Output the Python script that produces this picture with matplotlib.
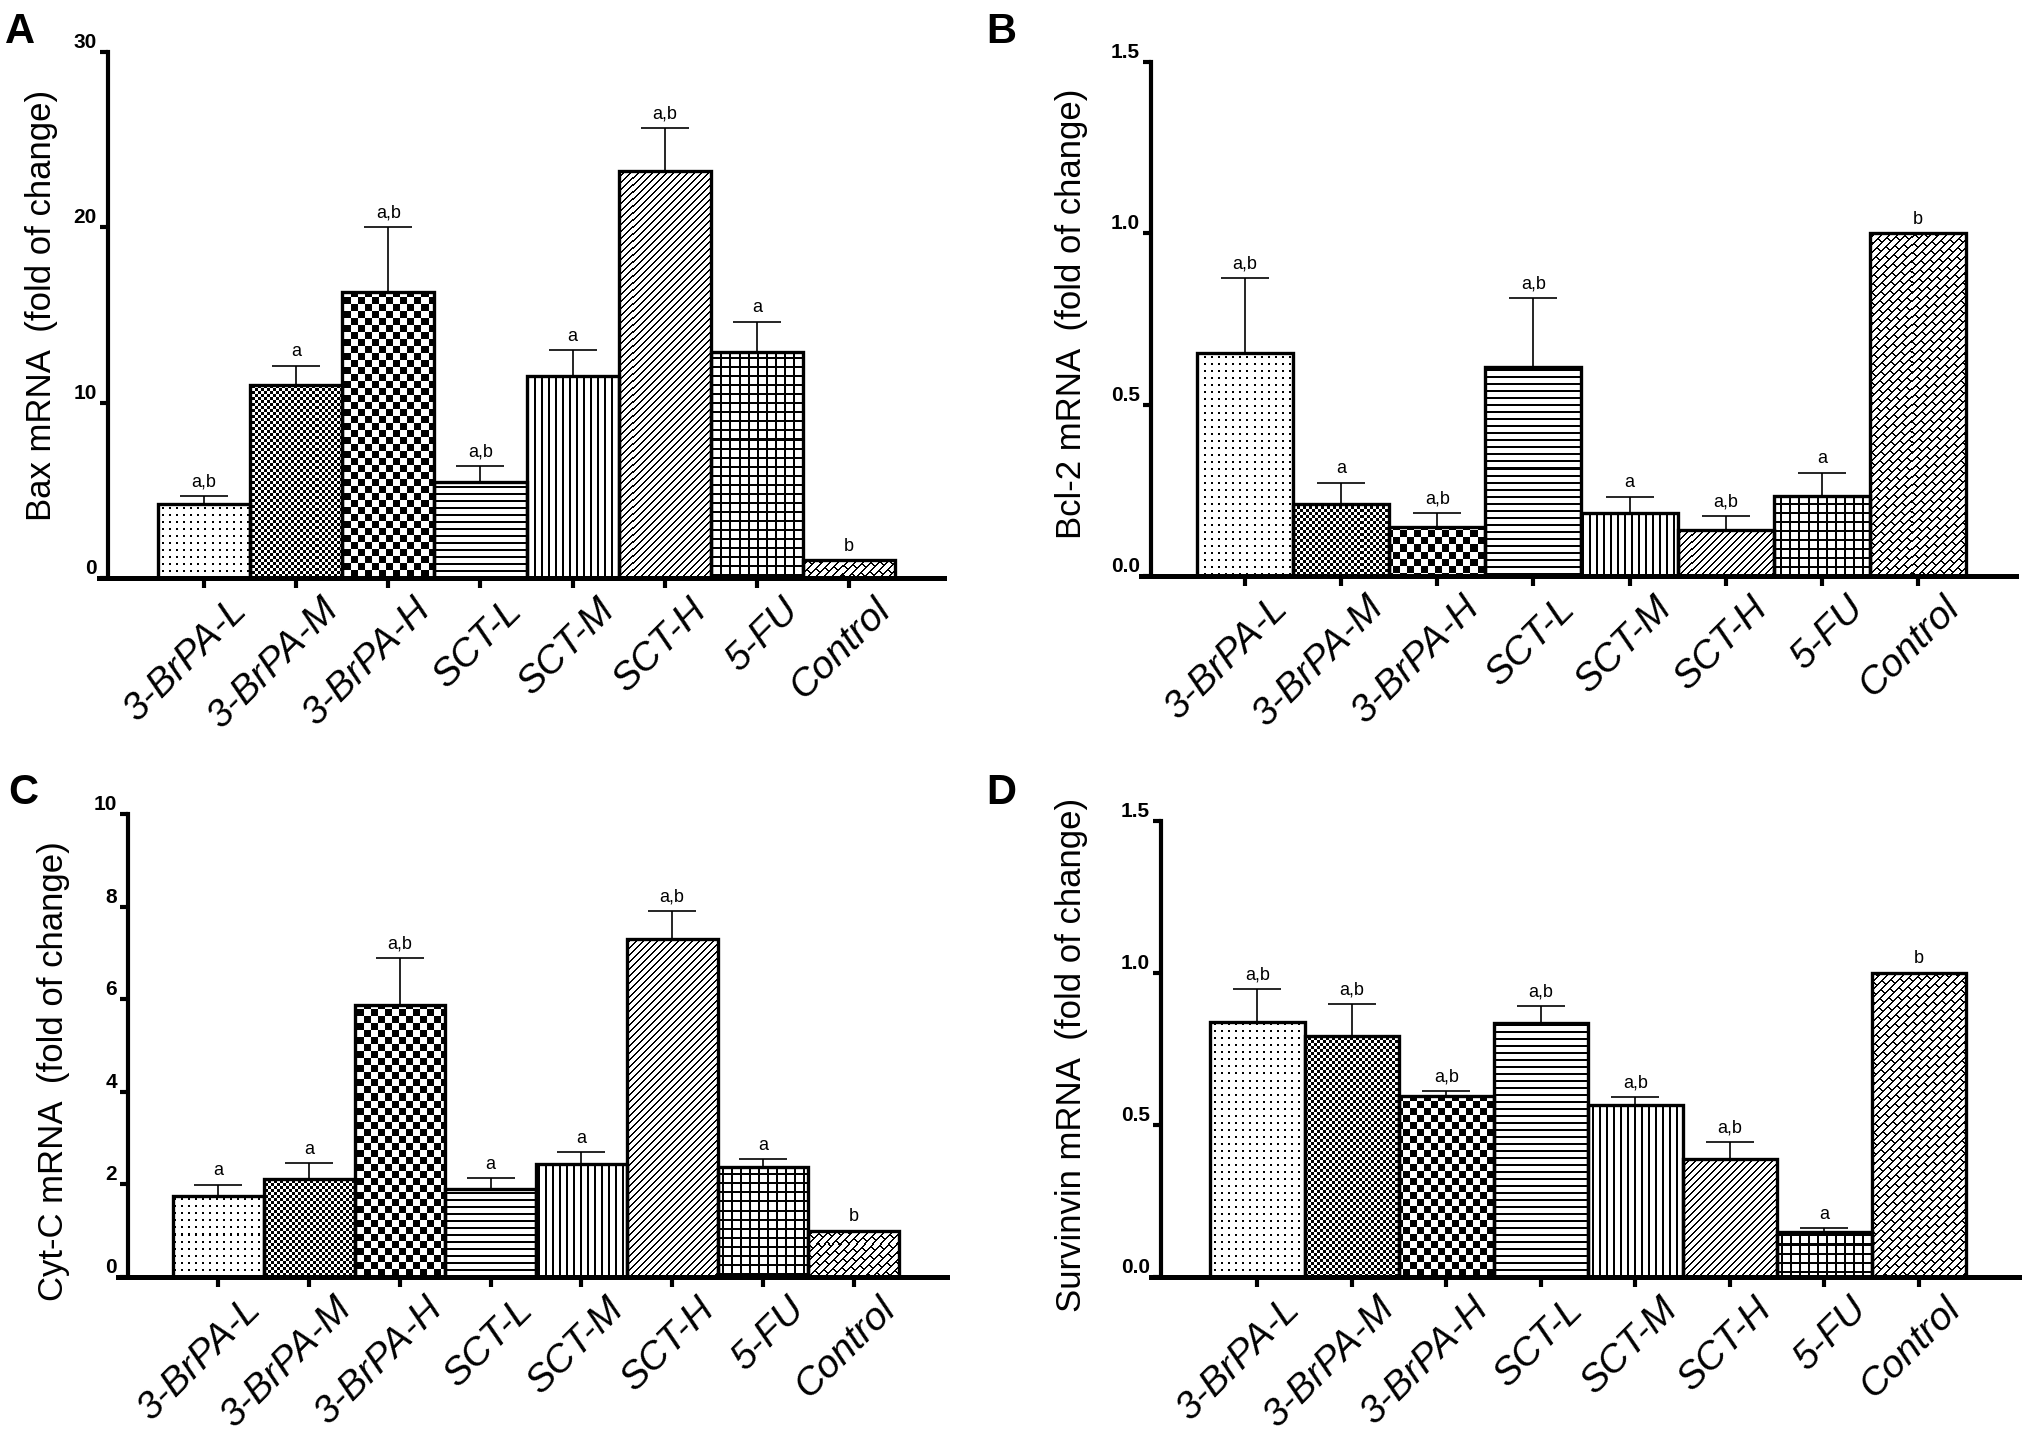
"""
Relative mRNA expression (Bax, Bcl-2, Cyt-C, Survivin) for the treatment
groups, drawn as a 2x2 grid of patterned bar charts with SEM error bars.
"""

import numpy as np
import matplotlib
matplotlib.use('Agg')
import matplotlib.pyplot as plt
from matplotlib.transforms import ScaledTranslation

groups = ['3-BrPA-L', '3-BrPA-M', '3-BrPA-H', 'SCT-L', 'SCT-M', 'SCT-H', '5-FU', 'Control']

bax_mean = [4.2, 11.0, 16.3, 5.45, 11.5, 23.2, 12.9, 1.0]
bax_err = [0.5, 1.1, 3.7, 0.95, 1.5, 2.45, 1.7, 0.0]
bax_sig = ['a,b', 'a', 'a,b', 'a,b', 'a', 'a,b', 'a', 'b']

bcl2_mean = [0.65, 0.21, 0.143, 0.61, 0.185, 0.133, 0.233, 1.0]
bcl2_err = [0.22, 0.062, 0.042, 0.20, 0.047, 0.043, 0.068, 0.0]
bcl2_sig = ['a,b', 'a', 'a,b', 'a,b', 'a', 'a,b', 'a', 'b']

cytc_mean = [1.75, 2.11, 5.88, 1.89, 2.45, 7.29, 2.38, 1.0]
cytc_err = [0.24, 0.35, 1.0, 0.24, 0.24, 0.62, 0.16, 0.0]
cytc_sig = ['a', 'a', 'a,b', 'a', 'a', 'a,b', 'a', 'b']

surv_mean = [0.84, 0.792, 0.595, 0.834, 0.565, 0.387, 0.149, 1.0]
surv_err = [0.108, 0.105, 0.018, 0.057, 0.026, 0.057, 0.012, 0.0]
surv_sig = ['a,b', 'a,b', 'a,b', 'a,b', 'a,b', 'a,b', 'a', 'b']

# fill pattern of each group (same in every panel)
fills = ['dots', 'fine_checker', 'checker', 'hlines', 'vlines', 'diag', 'grid', 'brick']

MAIN = ['Liberation Sans', 'DejaVu Sans']

W, H = 2031, 1439


def pattern_image(kind, h, w):
    r, c = np.mgrid[0:h, 0:w]
    if kind == 'dots':
        dark = (r % 7 < 2) & (c % 7 < 2)
    elif kind == 'fine_checker':
        dark = (r // 3 + c // 3) % 2 == 0
    elif kind == 'checker':
        dark = (r // 7 + c // 7) % 2 == 0
    elif kind == 'hlines':
        dark = r % 7 < 2
    elif kind == 'vlines':
        dark = c % 7 < 2
    elif kind == 'diag':
        dark = (r + c) % 7 < 2
    elif kind == 'grid':
        dark = (r % 9 < 2) | (c % 9 < 2)
    elif kind == 'brick':
        u = r + c
        v = c - r
        k = u // 8
        dark = (u % 8 < 2) | ((v + (k % 2) * 10) % 20 < 2)
    else:
        dark = np.zeros((h, w), bool)
    return np.where(dark, 0.0, 1.0)


def draw_panel(fig, box, bars_px, means, errs, sigs, ymax, yticks, yticklabels,
               ylabel, ylabel_px, letter, letter_px):
    left, right, top, bottom, spine_px = box
    bl, br = bars_px
    unit = (br - bl) / len(groups)
    xlo = -0.5 - (bl - left) / unit
    xhi = -0.5 + (right - bl) / unit
    spine_x = -0.5 - (bl - spine_px) / unit

    ax = fig.add_axes([left / W, 1 - bottom / H, (right - left) / W, (bottom - top) / H])
    x = np.arange(len(groups))

    bars = ax.bar(x, means, width=1.0, facecolor='none', edgecolor='black',
                  linewidth=2.4, zorder=3)

    # pixel patterns clipped to each bar
    w_px, h_px = int(round(ax.bbox.width)), int(round(ax.bbox.height))
    for patch, kind in zip(bars.patches, fills):
        im = ax.imshow(pattern_image(kind, h_px, w_px), cmap='gray', vmin=0, vmax=1,
                       extent=(xlo, xhi, 0, ymax), aspect='auto',
                       interpolation='nearest', zorder=1)
        im.set_clip_path(patch)

    # upper error bars only
    idx = [i for i, e in enumerate(errs) if e > 0]
    ax.errorbar(x[idx], np.array(means)[idx],
                yerr=[np.zeros(len(idx)), np.array(errs)[idx]],
                fmt='none', ecolor='black', elinewidth=1.2, capsize=17, capthick=1.2,
                zorder=2)

    for i in range(len(groups)):
        ax.annotate(sigs[i], (x[i], means[i] + errs[i]), xytext=(0, 4),
                    textcoords='offset points', ha='center', va='bottom',
                    fontsize=13, family=MAIN)

    ax.set_xlim(xlo, xhi)
    ax.set_ylim(0, ymax)

    for side in ['top', 'right']:
        ax.spines[side].set_visible(False)
    ax.spines['left'].set_position(('data', spine_x))
    ax.spines['left'].set_bounds(0, ymax)
    ax.spines['left'].set_linewidth(3.0)
    ax.spines['bottom'].set_linewidth(3.6)

    ax.tick_params(axis='y', direction='out', length=6, width=3, pad=2)
    ax.tick_params(axis='x', direction='out', length=7, width=3, pad=3)
    ax.set_yticks(yticks)
    ax.set_yticklabels(yticklabels, fontsize=15, fontweight='bold', family=MAIN,
                       va='bottom')
    ax.set_xticks(x)
    ax.set_xticklabels(groups, rotation=45, ha='right', va='top', rotation_mode='anchor',
                       fontsize=28, style='italic', family=MAIN)
    shift = ScaledTranslation(0.24, 0, fig.dpi_scale_trans)
    for lbl in ax.get_xticklabels():
        lbl.set_transform(lbl.get_transform() + shift)

    ax.set_ylabel(ylabel, fontsize=25, family=MAIN)
    lx, ly = ylabel_px
    ax.yaxis.set_label_coords((lx - left) / (right - left), (bottom - ly) / (bottom - top))
    ax.yaxis.label.set_va('center')

    fig.text(letter_px[0] / W, 1 - letter_px[1] / H, letter, fontsize=30,
             fontweight='bold', family=MAIN, ha='left', va='top')
    return ax


def main():
    fig = plt.figure(figsize=(W / 100, H / 100), dpi=100)

    draw_panel(fig, (99, 944, 52, 578, 108), (158, 895), bax_mean, bax_err, bax_sig,
               30, [0, 10, 20, 30], ['0', '10', '20', '30'],
               'Bax mRNA  (fold of change)', (41, 305), 'A', (5, 12))
    draw_panel(fig, (1141, 2016, 62, 576, 1151), (1197, 1966), bcl2_mean, bcl2_err, bcl2_sig,
               1.5, [0, 0.5, 1.0, 1.5], ['0.0', '0.5', '1.0', '1.5'],
               'Bcl-2 mRNA  (fold of change)', (1072, 314), 'B', (986, 12))
    draw_panel(fig, (118, 947, 814, 1277, 128), (173, 899), cytc_mean, cytc_err, cytc_sig,
               10, [0, 2, 4, 6, 8, 10], ['0', '2', '4', '6', '8', '10'],
               'Cyt-C mRNA  (fold of change)', (54, 1071), 'C', (8, 773))
    draw_panel(fig, (1151, 2019, 821, 1277, 1161), (1210, 1966), surv_mean, surv_err, surv_sig,
               1.5, [0, 0.5, 1.0, 1.5], ['0.0', '0.5', '1.0', '1.5'],
               'Survinvin mRNA  (fold of change)', (1072, 1055), 'D', (986, 773))

    fig.savefig('out.png', dpi=100, facecolor='white')
    plt.close(fig)


if __name__ == '__main__':
    main()
